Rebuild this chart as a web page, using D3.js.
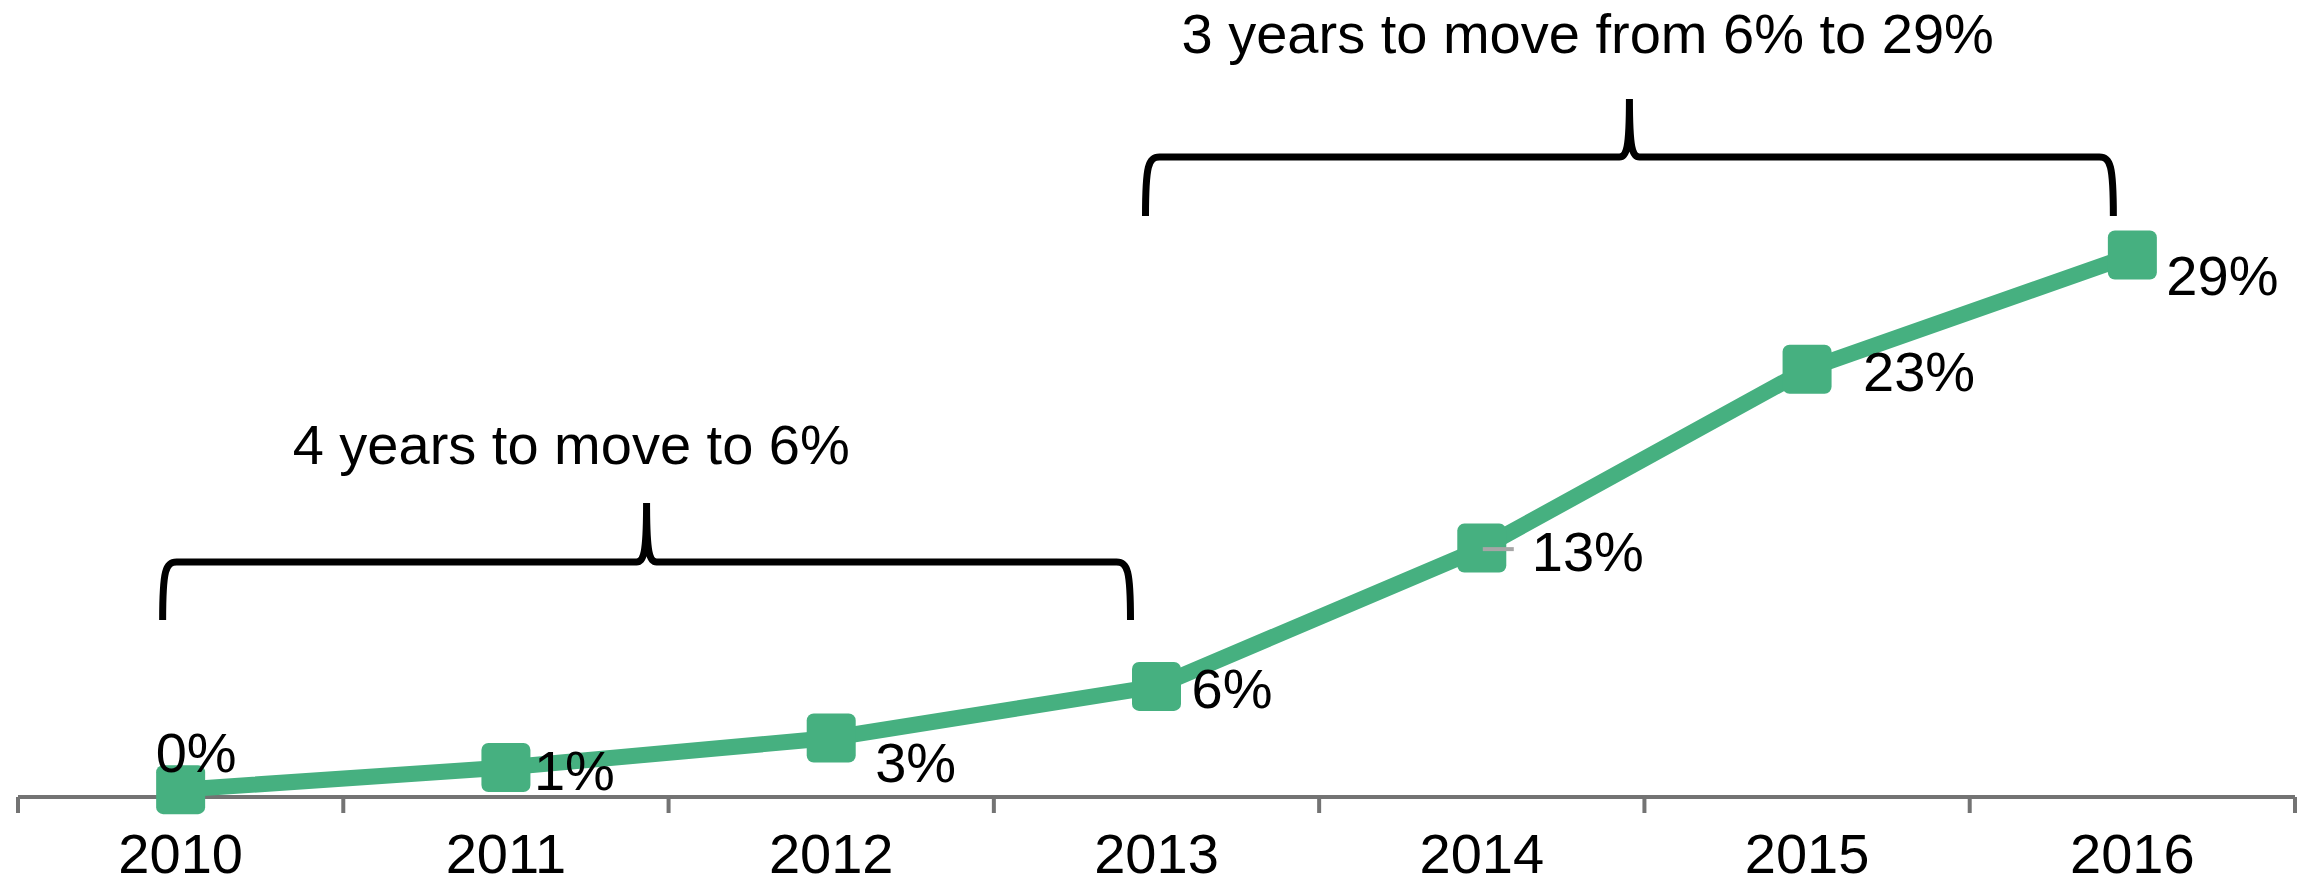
<!DOCTYPE html>
<meta charset="utf-8">
<script src="https://d3js.org/d3.v7.min.js"></script>
<style>
  body { margin: 0; background: #fff; }
  text { font-family: "Liberation Sans", Arial, sans-serif; fill: #000; }
</style>
<svg id="chart" width="2301" height="887"></svg>
<script>

// data
const years = ["2010", "2011", "2012", "2013", "2014", "2015", "2016"];
const shares = [0, 1.2, 2.8, 5.6, 13.1, 22.8, 29];
const shareLabels = ["0%", "1%", "3%", "6%", "13%", "23%", "29%"];
const braceFrom = ["2010", "2013"];
const braceTo = ["2013", "2016"];
const braceTexts = ["4 years to move to 6%", "3 years to move from 6% to 29%"];

// layout
const svg = d3.select("#chart"),
    width = +svg.attr("width"),
    height = +svg.attr("height");

const green = "#46b080";
const axisY = 797;
const fontSize = 56;

// label offsets from the marker centre (dx, baseline dy)
const labelOffsets = [[-25, -18], [28, 22], [44, 44], [35, 22], [50, 23], [56, 22], [34, 40]];
// braces: offsets of ends from category centres, bar height, peak top, leg bottom, text position
const braceLayout = [
  { dl: -18, dr: -26, y: 562, top: 503, bottom: 620, tx: 130, ty: 464 },
  { dl: -11, dr: -19, y: 157, top: 99, bottom: 216, tx: 36, ty: 53 }
];

const x = d3.scaleBand()
    .domain(years)
    .range([18, 2295])
    .padding(0);
const cx = d => x(d) + x.bandwidth() / 2;

const y = d3.scaleLinear()
    .domain([-0.4, 29])
    .range([axisY, 255]);

// axis line and ticks at category boundaries
svg.append("line")
    .attr("x1", x.range()[0]).attr("x2", x.range()[1])
    .attr("y1", axisY).attr("y2", axisY)
    .attr("stroke", "#737373").attr("stroke-width", 4);

svg.selectAll(".tick")
  .data(d3.range(years.length + 1))
  .join("line")
    .attr("x1", i => x.range()[0] + i * x.bandwidth())
    .attr("x2", i => x.range()[0] + i * x.bandwidth())
    .attr("y1", axisY)
    .attr("y2", axisY + 16)
    .attr("stroke", "#737373").attr("stroke-width", 4);

svg.selectAll(".year")
  .data(years)
  .join("text")
    .attr("x", d => cx(d))
    .attr("y", 873)
    .attr("text-anchor", "middle")
    .style("font-size", fontSize + "px")
    .text(d => d);

// line
const pts = years.map((d, i) => [cx(d), y(shares[i])]);
svg.append("path")
    .attr("d", d3.line()(pts))
    .attr("fill", "none")
    .attr("stroke", green)
    .attr("stroke-width", 16)
    .attr("stroke-linejoin", "round");

// markers
const ms = 49;
svg.selectAll(".marker")
  .data(pts)
  .join("rect")
    .attr("x", d => d[0] - ms / 2)
    .attr("y", d => d[1] - ms / 2)
    .attr("width", ms).attr("height", ms)
    .attr("rx", 7)
    .attr("fill", green);

// leader line for the 2014 label
svg.append("line")
    .attr("x1", pts[4][0] + 1).attr("x2", pts[4][0] + 32)
    .attr("y1", pts[4][1] + 1).attr("y2", pts[4][1] + 1)
    .attr("stroke", "#a6a6a6").attr("stroke-width", 4);

// data labels
svg.selectAll(".label")
  .data(shareLabels)
  .join("text")
    .attr("x", (d, i) => pts[i][0] + labelOffsets[i][0])
    .attr("y", (d, i) => pts[i][1] + labelOffsets[i][1])
    .style("font-size", fontSize + "px")
    .text(d => d);

// braces
braceTexts.forEach((t, i) => {
  const b = braceLayout[i];
  const L = cx(braceFrom[i]) + b.dl,
        R = cx(braceTo[i]) + b.dr,
        P = (L + R) / 2;
  const p = d3.path();
  p.moveTo(L, b.bottom);
  p.bezierCurveTo(L, b.y + 8, L + 3, b.y, L + 14, b.y);
  p.lineTo(P - 10, b.y);
  p.bezierCurveTo(P - 3, b.y, P, b.y - 8, P, b.top);
  p.bezierCurveTo(P, b.y - 8, P + 3, b.y, P + 10, b.y);
  p.lineTo(R - 14, b.y);
  p.bezierCurveTo(R - 3, b.y, R, b.y + 8, R, b.bottom);
  svg.append("path")
      .attr("d", p.toString())
      .attr("fill", "none")
      .attr("stroke", "#000")
      .attr("stroke-width", 7)
      .attr("stroke-linejoin", "miter");

  svg.append("text")
      .attr("x", L + b.tx)
      .attr("y", b.ty)
      .style("font-size", fontSize + "px")
      .text(t);
});

</script>
